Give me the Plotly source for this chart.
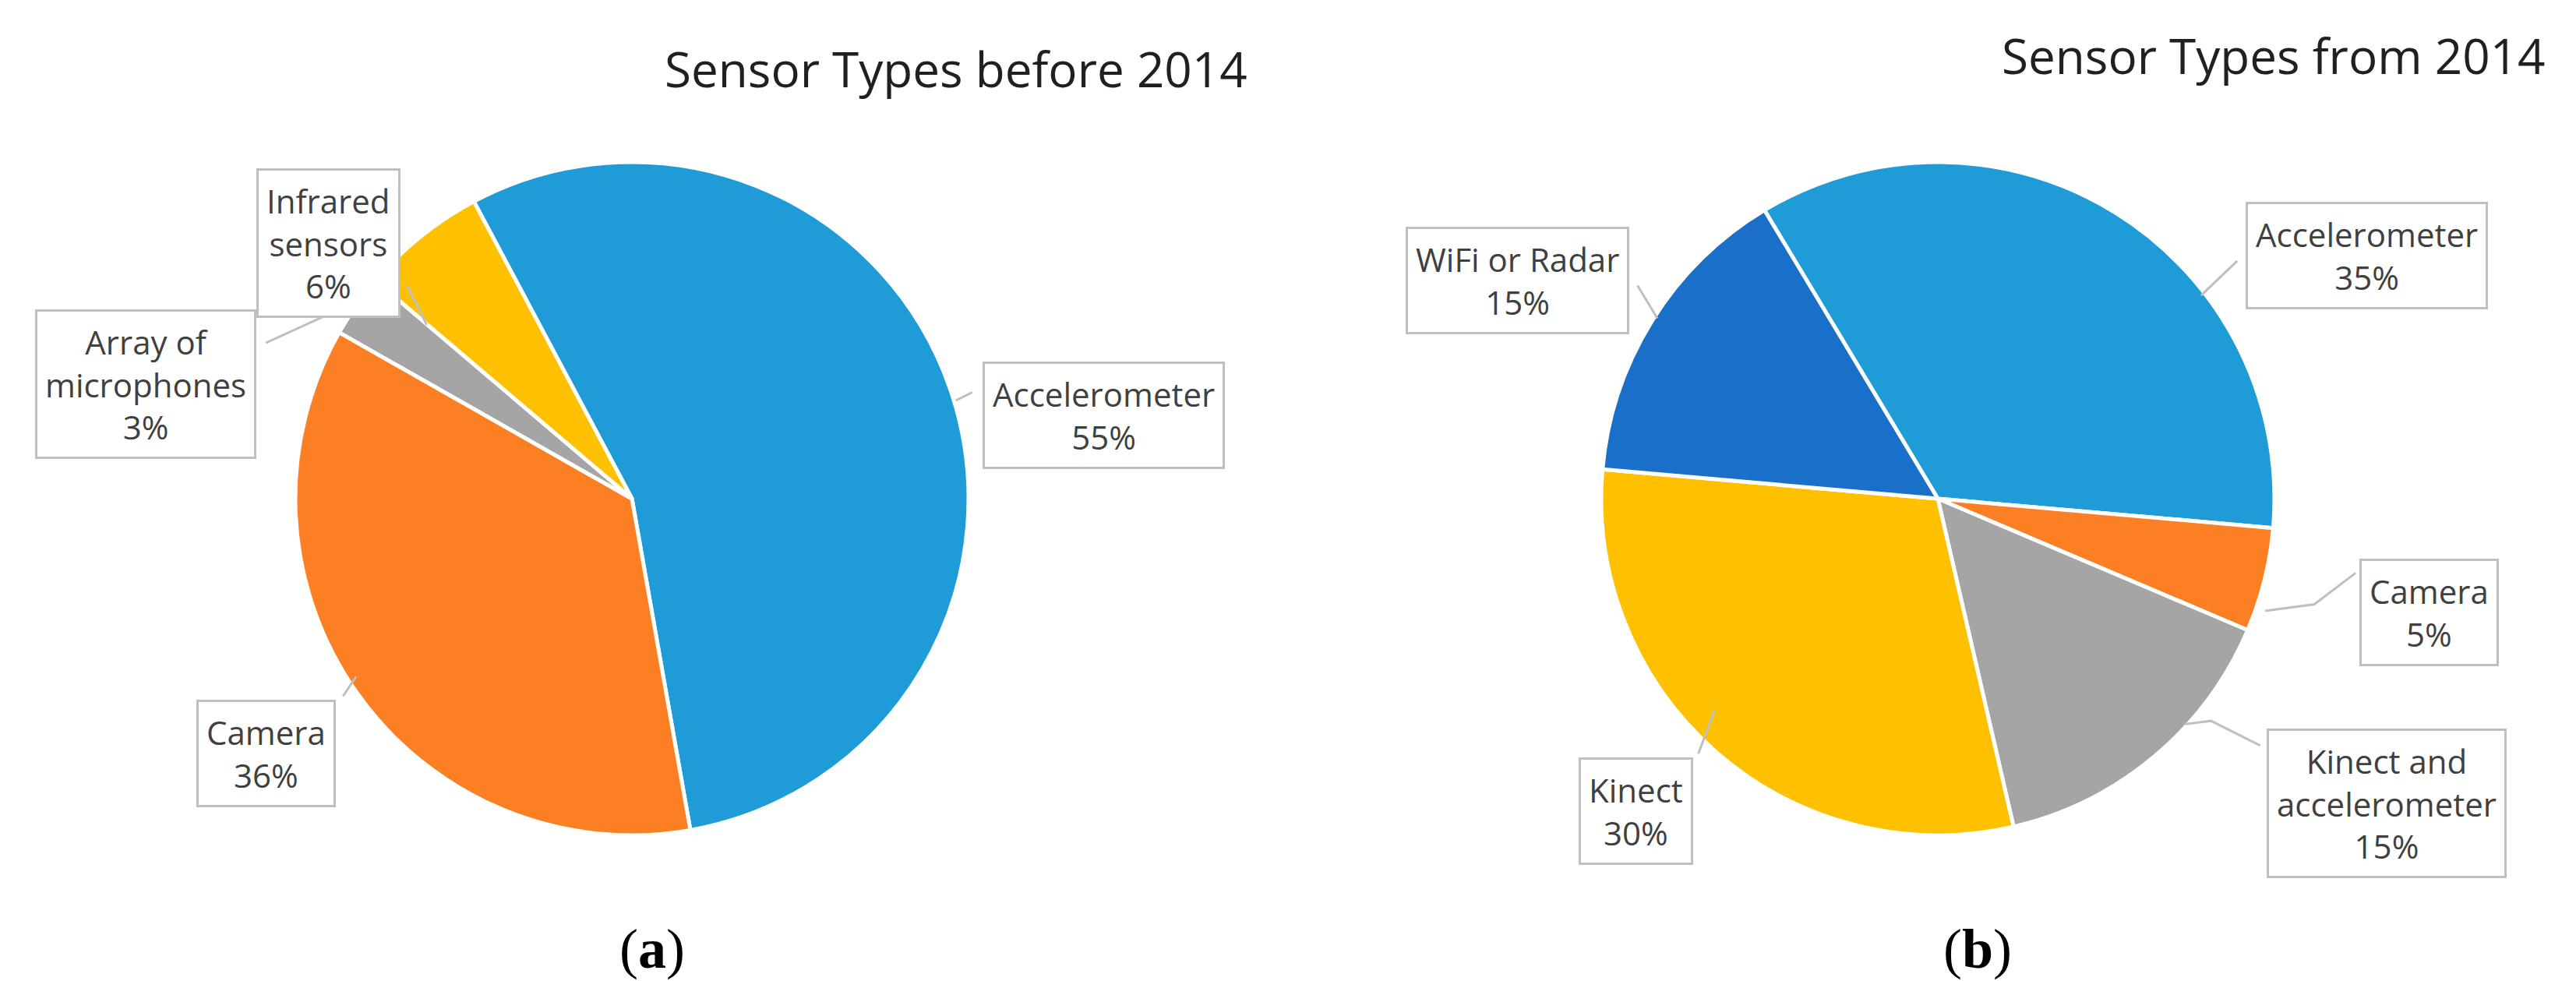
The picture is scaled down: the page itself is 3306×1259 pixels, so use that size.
import plotly.graph_objects as go

W, H = 3306, 1259
labels_a = ["Accelerometer", "Camera", "Array of microphones", "Infrared sensors"]
values_a = [55, 36, 3, 6]
colors_a = ["#1f9bd7", "#fd7f24", "#a5a5a5", "#ffc000"]
labels_b = ["Accelerometer", "Camera", "Kinect and accelerometer", "Kinect", "WiFi or Radar"]
values_b = [35, 5, 15, 30, 15]
colors_b = ["#1f9bd7", "#fd7f24", "#a5a5a5", "#ffc000", "#1a70c8"]

def px(x): return x / W
def py(y): return 1 - y / H

R = 432
def dom(cx, cy):
    return dict(x=[px(cx - R), px(cx + R)], y=[py(cy + R), py(cy - R)])

fig = go.Figure()
fig.add_trace(go.Pie(labels=labels_a, values=values_a, marker=dict(colors=colors_a, line=dict(color="white", width=5)),
                     sort=False, direction="clockwise", rotation=-28, textinfo="none", hoverinfo="label+percent",
                     domain=dom(803, 632), showlegend=False))
fig.add_trace(go.Pie(labels=labels_b, values=values_b, marker=dict(colors=colors_b, line=dict(color="white", width=5)),
                     sort=False, direction="clockwise", rotation=-31, textinfo="none", hoverinfo="label+percent",
                     domain=dom(2479, 632), showlegend=False))

s = 3306 / 1568
boxes = [
    ("Infrared<br>sensors<br>6%", 196, 144),
    ("Array of<br>microphones<br>3%", 85, 230),
    ("Accelerometer<br>55%", 668, 249),
    ("Camera<br>36%", 158, 455),
    ("WiFi or Radar<br>15%", 920, 167),
    ("Accelerometer<br>35%", 1437, 152),
    ("Camera<br>5%", 1475, 369),
    ("Kinect and<br>accelerometer<br>15%", 1449, 485),
    ("Kinect<br>30%", 992, 490),
]
anns = []
for t, x, y in boxes:
    anns.append(dict(text=t, x=px(x * s), y=py(y * s), xref="paper", yref="paper", showarrow=False,
                     xanchor="center", yanchor="middle",
                     font=dict(family="Open Sans", size=42, color="#404040"), bgcolor="white",
                     bordercolor="#bfbfbf", borderwidth=3, borderpad=10, align="center"))
anns.append(dict(text="Sensor Types before 2014", x=px(578 * s), y=py(38 * s), xref="paper", yref="paper",
                 xanchor="center", yanchor="middle",
                 showarrow=False, font=dict(family="Open Sans", size=62, color="#202020")))
anns.append(dict(text="Sensor Types from 2014", x=px(1380 * s), y=py(30 * s), xref="paper", yref="paper",
                 xanchor="center", yanchor="middle",
                 showarrow=False, font=dict(family="Open Sans", size=62, color="#202020")))
for t, x in [("(<b>a</b>)", 393), ("(<b>b</b>)", 1200)]:
    anns.append(dict(text=t, x=px(x * s), y=py(574 * s), xref="paper", yref="paper", showarrow=False,
                     xanchor="center", yanchor="middle",
                     font=dict(family="Liberation Serif", size=72, color="black")))

leaders = [
    [(244, 170), (256, 194)],
    [(158, 205), (195, 188), (212, 188)],
    [(588, 235), (578, 240)],
    [(205, 420), (213, 408)],
    [(993, 170), (1005, 190)],
    [(1358, 155), (1336, 176)],
    [(1430, 345), (1405, 364), (1375, 368)],
    [(1372, 450), (1342, 435), (1326, 437)],
    [(1030, 455), (1040, 428)],
]
shapes = []
for pts in leaders:
    path = "M " + " L ".join(f"{px(a*s)},{py(b*s)}" for a, b in pts)
    shapes.append(dict(type="path", path=path, xref="paper", yref="paper", line=dict(color="#bfbfbf", width=3)))

fig.update_layout(width=W, height=H, margin=dict(l=0, r=0, t=0, b=0), paper_bgcolor="white",
                  annotations=anns, shapes=shapes)
fig.write_html("out.html")
